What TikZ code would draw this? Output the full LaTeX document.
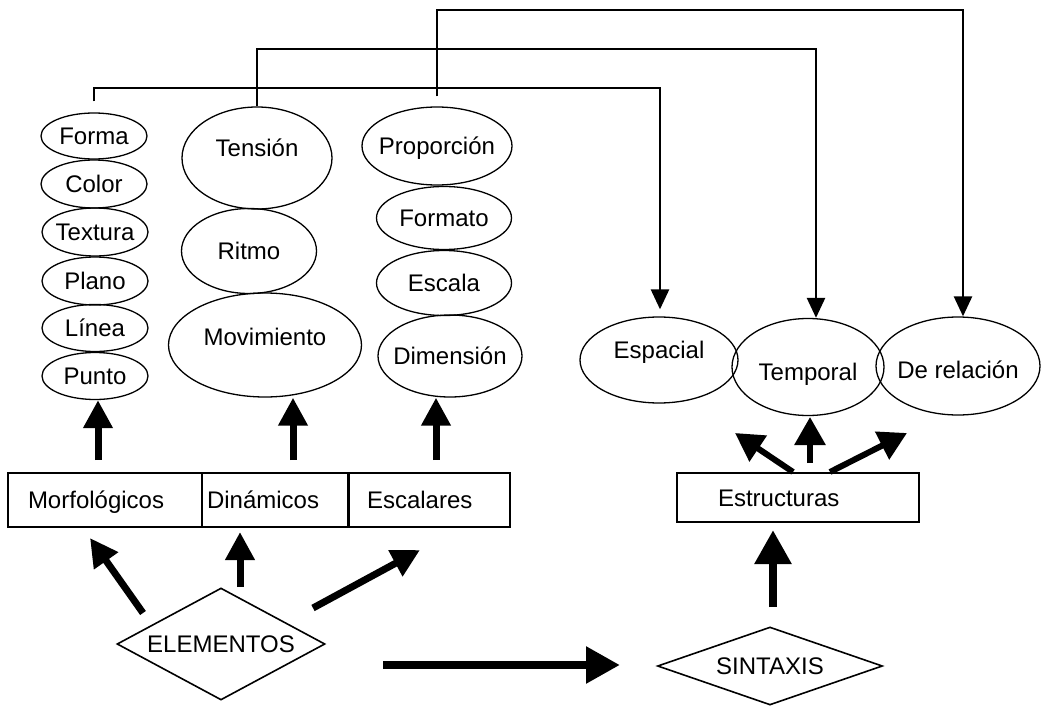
\documentclass[tikz,border=0pt]{standalone}
\usepackage{fontspec}
\setmainfont{Liberation Sans}
\usetikzlibrary{shapes.geometric,arrows.meta,calc}
\newcommand\zb[1]{\makebox[0pt]{#1}}
\begin{document}
\begin{tikzpicture}[x=1pt,y=-1pt,
  every node/.style={font=\fontsize{24}{28}\selectfont},
  ell/.style={ellipse,draw,line width=1.3pt,inner sep=0pt,text height=17pt,text depth=0pt},
  boxn/.style={rectangle,draw,line width=2.2pt,inner ysep=0pt,text height=17pt,text depth=0pt,align=left},
  dia/.style={diamond,draw,line width=1.6pt,inner sep=0pt,text height=17pt,text depth=0pt},
  conn/.style={line width=2.6pt},
  down/.style={conn,-{Triangle[length=20pt,width=18pt]}},
  big/.style={line width=7pt,-{Triangle[length=28pt,width=28pt]}},
  bigger/.style={line width=8.5pt,-{Triangle[length=34pt,width=35pt]}},
  small/.style={line width=6pt,-{Triangle[length=28pt,width=30pt]}},
]
\useasboundingbox (0,0) rectangle (1041,706);

% left column
\node[ell,minimum width=106pt,minimum height=46pt] (forma) at (94,136) {\zb{Forma}};
\node[ell,minimum width=106pt,minimum height=48pt] (color) at (94,184) {\zb{Color}};
\node[ell,minimum width=106pt,minimum height=48pt] (textura) at (95,232) {\zb{Textura}};
\node[ell,minimum width=106pt,minimum height=48pt] (plano) at (95,281) {\zb{Plano}};
\node[ell,minimum width=106pt,minimum height=47pt] (linea) at (95,328) {\zb{Línea}};
\node[ell,minimum width=106pt,minimum height=47pt] (punto) at (95,376) {\zb{Punto}};

% middle column
\node[ell,minimum width=150pt,minimum height=102pt,text depth=20pt] (tension) at (257,158) {\zb{Tensión}};
\node[ell,minimum width=135pt,minimum height=85pt] (ritmo) at (249,251) {\zb{Ritmo}};
\node[ell,minimum width=193pt,minimum height=104pt,text depth=16pt] (movimiento) at (265,345) {\zb{Movimiento}};

% right column
\node[ell,minimum width=150pt,minimum height=78pt] (proporcion) at (437,146) {\zb{Proporción}};
\node[ell,minimum width=135pt,minimum height=63pt] (formato) at (444,218) {\zb{Formato}};
\node[ell,minimum width=135pt,minimum height=65pt] (escala) at (444,283) {\zb{Escala}};
\node[ell,minimum width=144pt,minimum height=82pt] (dimension) at (450,356) {\zb{Dimensión}};

% structures ellipses
\node[ell,minimum width=158pt,minimum height=86pt,text depth=20pt] (espacial) at (659,360) {\zb{Espacial}};
\node[ell,minimum width=152pt,minimum height=97pt,text height=27pt] (temporal) at (808,367) {\zb{Temporal}};
\node[ell,minimum width=164pt,minimum height=98pt,text height=25pt] (derel) at (958,366) {\zb{De relación}};

% boxes
\node[boxn,inner xsep=20pt,text width=154pt,minimum height=54pt] (morf) at (105,500) {Morfológicos};
\node[boxn,inner xsep=5pt,text width=136pt,minimum height=54pt] (din) at (275,500) {Dinámicos};
\node[boxn,inner xsep=18pt,text width=125pt,minimum height=54pt] (esc) at (429.5,500) {Escalares};
\node[boxn,inner xsep=41pt,text width=160pt,minimum height=49pt] (estr) at (798,497.5) {Estructuras};

% diamonds
\node[dia,aspect=1.857,minimum width=208pt,minimum height=112pt] (elem) at (221,644) {ELEMENTOS};
\node[dia,aspect=2.88,minimum width=225pt,minimum height=78pt] (sint) at (770,666) {SINTAXIS};

% top connectors
\coordinate (c1) at (660,88);
\coordinate (c2) at (816,49);
\coordinate (c3) at (963,10);
\draw[down] ($(forma.north)+(0,-11)$) |- (c1) -- ($(c1 |- espacial.north)+(0,-7)$);
\draw[down] (tension.north) |- (c2) -- (c2 |- temporal.north);
\draw[down] ($(proporcion.north)+(0,-10)$) |- (c3) -- (c3 |- derel.north);

% box to column arrows
\coordinate (a1) at (98,460);
\coordinate (a2) at (293,460);
\coordinate (a3) at (436,460);
\draw[big] (a1) -- (a1 |- punto.south);
\draw[big] (a2) -- (a2 |- movimiento.south);
\draw[big] (a3) -- (a3 |- dimension.south);

% elementos arrows
\coordinate (e1) at (143,613); \coordinate (h1) at (90,538);
\coordinate (e2) at (240,587); \coordinate (h2) at (240,532);
\coordinate (e3) at (313,608); \coordinate (h3) at (420,550);
\draw[big] (e1) -- (h1);
\draw[big] (e2) -- (h2);
\draw[big] (e3) -- (h3);

% elementos to sintaxis
\coordinate (s1) at (383,665); \coordinate (s2) at (620,665);
\draw[bigger] (s1) -- (s2);

% sintaxis to estructuras
\coordinate (s3) at (773,607); \coordinate (s4) at (773,530);
\draw[bigger] (s3) -- (s4);

% estructuras up arrows
\coordinate (u1) at (793,472); \coordinate (v1) at (735,433);
\coordinate (u2) at (810,463); \coordinate (v2) at (810,417);
\coordinate (u3) at (830,472); \coordinate (v3) at (907,433);
\draw[small] (u1) -- (v1);
\draw[small] (u2) -- (v2);
\draw[small] (u3) -- (v3);
\end{tikzpicture}
\end{document}
